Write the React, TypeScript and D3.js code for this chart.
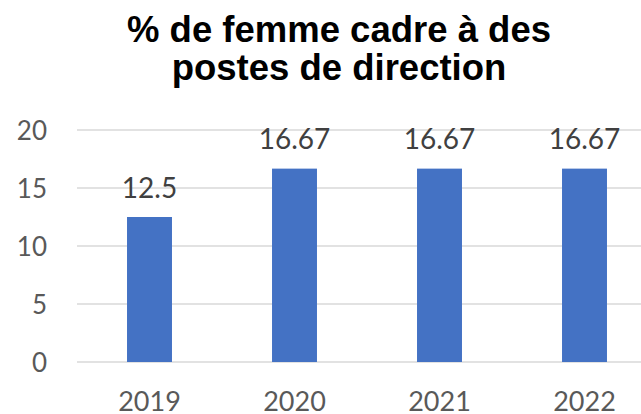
import React from 'react';
import * as d3 from 'd3';

// données
const years = ['2019', '2020', '2021', '2022'];
const values = [12.5, 16.67, 16.67, 16.67];
const yTicks = [0, 5, 10, 15, 20];
const titleLines = ['% de femme cadre à des', 'postes de direction'];

const App = () => {
  const width = 641;
  const height = 414;

  // zone de tracé (le bord droit déborde, comme sur l'original)
  const plot = { left: 77, right: 657, top: 130, bottom: 362 };

  const x = d3.scaleBand()
    .domain(years)
    .range([plot.left, plot.right])
    .paddingInner(0.69)
    .paddingOuter(0.345);

  const y = d3.scaleLinear()
    .domain([0, 20])
    .range([plot.bottom, plot.top]);

  return (
    <svg width={width} height={height}
      style={{ position: 'absolute', left: 0, top: 0, background: '#fff' }}>
      {/* titre */}
      {titleLines.map((t, i) => (
        <text key={t} x={339} y={42 + i * 38} textAnchor="middle"
          fontFamily="Liberation Sans, Arial, sans-serif" fontWeight="bold"
          fontSize={36.5} fill="#000">{t}</text>
      ))}

      {/* grille */}
      {yTicks.map(t => (
        <line key={t} x1={plot.left} x2={plot.right} y1={y(t)} y2={y(t)}
          stroke="#d9d9d9" strokeWidth={1.5} />
      ))}

      {/* étiquettes axe Y */}
      {yTicks.map(t => (
        <text key={'y' + t} x={47} y={y(t) + 9.5} textAnchor="end"
          fontFamily="Lato, sans-serif" fontSize={26} fill="#595959">{t}</text>
      ))}

      {/* barres */}
      {years.map((yr, i) => (
        <rect key={yr} x={x(yr)} y={y(values[i])} width={x.bandwidth()}
          height={y(0) - y(values[i])} fill="#4472c4" />
      ))}

      {/* valeurs */}
      {years.map((yr, i) => (
        <text key={'v' + yr} x={x(yr)! + x.bandwidth() / 2} y={y(values[i]) - 19.5}
          textAnchor="middle" fontFamily="Lato, sans-serif" fontSize={28}
          fill="#404040">{values[i]}</text>
      ))}

      {/* étiquettes axe X */}
      {years.map(yr => (
        <text key={'x' + yr} x={x(yr)! + x.bandwidth() / 2} y={410.5}
          textAnchor="middle" fontFamily="Lato, sans-serif" fontSize={27}
          fill="#595959">{yr}</text>
      ))}
    </svg>
  );
};

export default App;
